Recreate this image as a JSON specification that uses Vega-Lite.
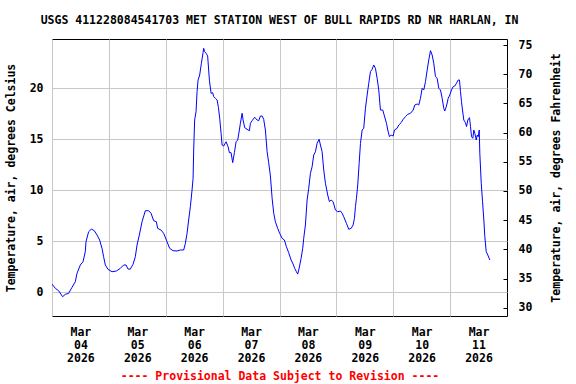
{
  "$schema": "https://vega.github.io/schema/vega-lite/v6.json",
  "autosize": {"type": "none"},
  "width": 455,
  "height": 277,
  "padding": {"left": 52, "top": 39, "right": 69, "bottom": 68},
  "background": "white",
  "title": {"text": "USGS 411228084541703 MET STATION WEST OF BULL RAPIDS RD NR HARLAN, IN", "fontSize": 11.5, "fontWeight": "bold", "font": "DejaVu Sans Mono", "anchor": "middle", "offset": 4, "baseline": "alphabetic", "color": "black"},
  "layer": [
    {
      "data": {"values": [
        {"t":"2026-03-04T00:00","c":0.81},{"t":"2026-03-04T01:25","c":0.39},{"t":"2026-03-04T02:47","c":0.16},{"t":"2026-03-04T04:28","c":-0.43},{"t":"2026-03-04T05:37","c":-0.2},{"t":"2026-03-04T07:00","c":-0.1},{"t":"2026-03-04T08:27","c":0.49},{"t":"2026-03-04T09:50","c":1.04},{"t":"2026-03-04T10:33","c":1.86},{"t":"2026-03-04T11:57","c":2.68},{"t":"2026-03-04T13:05","c":3.0},{"t":"2026-03-04T14:03","c":3.98},{"t":"2026-03-04T14:21","c":4.96},{"t":"2026-03-04T15:27","c":5.94},{"t":"2026-03-04T16:35","c":6.2},{"t":"2026-03-04T17:51","c":6.04},{"t":"2026-03-04T19:00","c":5.62},{"t":"2026-03-04T20:06","c":5.13},{"t":"2026-03-04T21:06","c":4.31},{"t":"2026-03-04T21:47","c":3.49},{"t":"2026-03-04T22:30","c":2.68},{"t":"2026-03-04T23:38","c":2.25},
        {"t":"2026-03-05T01:20","c":2.02},{"t":"2026-03-05T03:09","c":2.09},{"t":"2026-03-05T04:50","c":2.35},{"t":"2026-03-05T06:14","c":2.68},{"t":"2026-03-05T07:14","c":2.68},{"t":"2026-03-05T08:05","c":2.28},{"t":"2026-03-05T09:03","c":2.28},{"t":"2026-03-05T10:12","c":2.75},{"t":"2026-03-05T11:10","c":3.49},{"t":"2026-03-05T11:53","c":4.64},{"t":"2026-03-05T12:51","c":5.62},{"t":"2026-03-05T14:00","c":6.92},{"t":"2026-03-05T15:23","c":8.0},{"t":"2026-03-05T16:47","c":8.0},{"t":"2026-03-05T17:48","c":7.75},{"t":"2026-03-05T18:53","c":7.02},{"t":"2026-03-05T20:02","c":6.92},{"t":"2026-03-05T20:35","c":6.27},{"t":"2026-03-05T22:01","c":6.1},{"t":"2026-03-05T23:07","c":5.78},
        {"t":"2026-03-06T00:33","c":4.96},{"t":"2026-03-06T01:39","c":4.31},{"t":"2026-03-06T03:05","c":4.08},{"t":"2026-03-06T04:46","c":4.05},{"t":"2026-03-06T06:10","c":4.15},{"t":"2026-03-06T07:34","c":4.15},{"t":"2026-03-06T08:17","c":4.8},{"t":"2026-03-06T08:59","c":5.78},{"t":"2026-03-06T09:40","c":7.09},{"t":"2026-03-06T10:23","c":8.39},{"t":"2026-03-06T11:06","c":10.03},{"t":"2026-03-06T11:32","c":11.18},{"t":"2026-03-06T11:47","c":13.95},{"t":"2026-03-06T12:12","c":16.9},{"t":"2026-03-06T12:47","c":17.7},{"t":"2026-03-06T13:13","c":19.67},{"t":"2026-03-06T13:38","c":20.8},{"t":"2026-03-06T14:19","c":21.3},{"t":"2026-03-06T15:02","c":22.45},{"t":"2026-03-06T15:45","c":23.49},{"t":"2026-03-06T16:00","c":23.92},{"t":"2026-03-06T16:25","c":23.59},{"t":"2026-03-06T17:01","c":23.43},{"t":"2026-03-06T17:41","c":23.17},{"t":"2026-03-06T18:25","c":20.8},{"t":"2026-03-06T19:08","c":19.5},{"t":"2026-03-06T19:48","c":19.57},{"t":"2026-03-06T20:13","c":19.18},{"t":"2026-03-06T20:56","c":19.02},{"t":"2026-03-06T21:40","c":18.85},{"t":"2026-03-06T22:13","c":18.14},{"t":"2026-03-06T22:46","c":17.06},{"t":"2026-03-06T23:21","c":15.59},{"t":"2026-03-06T23:46","c":14.44},
        {"t":"2026-03-07T00:27","c":14.34},{"t":"2026-03-07T01:28","c":14.76},{"t":"2026-03-07T02:18","c":14.27},{"t":"2026-03-07T02:51","c":13.69},{"t":"2026-03-07T03:34","c":13.69},{"t":"2026-03-07T04:15","c":12.71},{"t":"2026-03-07T04:58","c":13.69},{"t":"2026-03-07T05:41","c":14.76},{"t":"2026-03-07T06:22","c":14.93},{"t":"2026-03-07T07:04","c":15.91},{"t":"2026-03-07T07:30","c":16.57},{"t":"2026-03-07T08:13","c":17.55},{"t":"2026-03-07T08:38","c":16.89},{"t":"2026-03-07T09:19","c":16.14},{"t":"2026-03-07T10:19","c":15.98},{"t":"2026-03-07T11:18","c":15.84},{"t":"2026-03-07T11:43","c":16.57},{"t":"2026-03-07T12:26","c":16.82},{"t":"2026-03-07T13:32","c":17.16},{"t":"2026-03-07T14:33","c":16.89},{"t":"2026-03-07T15:13","c":16.82},{"t":"2026-03-07T15:56","c":17.28},{"t":"2026-03-07T16:40","c":17.28},{"t":"2026-03-07T17:20","c":16.96},{"t":"2026-03-07T18:03","c":15.91},{"t":"2026-03-07T18:46","c":13.78},{"t":"2026-03-07T19:26","c":12.71},{"t":"2026-03-07T20:10","c":11.4},{"t":"2026-03-07T20:53","c":9.22},{"t":"2026-03-07T21:34","c":7.75},{"t":"2026-03-07T22:16","c":6.92},{"t":"2026-03-07T23:14","c":6.27},
        {"t":"2026-03-08T00:05","c":5.78},{"t":"2026-03-08T01:06","c":5.29},{"t":"2026-03-08T02:04","c":5.13},{"t":"2026-03-08T02:55","c":4.47},{"t":"2026-03-08T03:53","c":3.88},{"t":"2026-03-08T04:54","c":3.17},{"t":"2026-03-08T05:44","c":2.77},{"t":"2026-03-08T06:25","c":2.35},{"t":"2026-03-08T07:08","c":2.02},{"t":"2026-03-08T07:41","c":1.79},{"t":"2026-03-08T08:17","c":2.35},{"t":"2026-03-08T09:07","c":3.33},{"t":"2026-03-08T09:48","c":4.31},{"t":"2026-03-08T10:13","c":5.29},{"t":"2026-03-08T10:56","c":6.6},{"t":"2026-03-08T11:39","c":9.05},{"t":"2026-03-08T12:20","c":10.2},{"t":"2026-03-08T13:03","c":11.67},{"t":"2026-03-08T13:46","c":12.31},{"t":"2026-03-08T14:26","c":13.46},{"t":"2026-03-08T15:10","c":13.78},{"t":"2026-03-08T15:52","c":14.6},{"t":"2026-03-08T16:43","c":15.0},{"t":"2026-03-08T17:16","c":14.44},{"t":"2026-03-08T17:59","c":13.78},{"t":"2026-03-08T18:40","c":11.99},{"t":"2026-03-08T19:23","c":10.69},{"t":"2026-03-08T20:21","c":9.54},{"t":"2026-03-08T21:04","c":8.88},{"t":"2026-03-08T21:47","c":9.05},{"t":"2026-03-08T22:38","c":8.88},{"t":"2026-03-08T23:36","c":8.07},
        {"t":"2026-03-09T00:34","c":7.9},{"t":"2026-03-09T01:43","c":7.97},{"t":"2026-03-09T02:26","c":7.75},{"t":"2026-03-09T03:06","c":7.41},{"t":"2026-03-09T04:14","c":6.76},{"t":"2026-03-09T05:13","c":6.18},{"t":"2026-03-09T06:14","c":6.27},{"t":"2026-03-09T07:04","c":6.6},{"t":"2026-03-09T07:37","c":7.25},{"t":"2026-03-09T08:03","c":8.39},{"t":"2026-03-09T08:28","c":9.22},{"t":"2026-03-09T09:01","c":10.52},{"t":"2026-03-09T09:26","c":11.99},{"t":"2026-03-09T09:37","c":12.65},{"t":"2026-03-09T10:10","c":14.6},{"t":"2026-03-09T10:53","c":15.91},{"t":"2026-03-09T11:33","c":16.08},{"t":"2026-03-09T12:16","c":18.04},{"t":"2026-03-09T12:59","c":19.34},{"t":"2026-03-09T13:40","c":20.49},{"t":"2026-03-09T14:23","c":21.63},{"t":"2026-03-09T15:05","c":21.86},{"t":"2026-03-09T15:46","c":22.28},{"t":"2026-03-09T16:29","c":21.96},{"t":"2026-03-09T17:12","c":20.98},{"t":"2026-03-09T17:53","c":19.83},{"t":"2026-03-09T18:36","c":17.87},{"t":"2026-03-09T19:34","c":17.87},{"t":"2026-03-09T20:17","c":17.28},{"t":"2026-03-09T21:08","c":16.57},{"t":"2026-03-09T21:41","c":15.91},{"t":"2026-03-09T22:24","c":15.25},{"t":"2026-03-09T23:07","c":15.42},{"t":"2026-03-09T23:58","c":15.32},
        {"t":"2026-03-10T00:31","c":15.91},{"t":"2026-03-10T01:39","c":16.08},{"t":"2026-03-10T02:20","c":16.4},{"t":"2026-03-10T03:20","c":16.63},{"t":"2026-03-10T04:11","c":16.96},{"t":"2026-03-10T05:10","c":17.22},{"t":"2026-03-10T06:08","c":17.45},{"t":"2026-03-10T07:16","c":17.55},{"t":"2026-03-10T08:25","c":17.87},{"t":"2026-03-10T09:05","c":18.36},{"t":"2026-03-10T10:06","c":18.46},{"t":"2026-03-10T10:46","c":18.36},{"t":"2026-03-10T11:29","c":19.02},{"t":"2026-03-10T12:12","c":20.0},{"t":"2026-03-10T12:53","c":19.83},{"t":"2026-03-10T13:36","c":20.65},{"t":"2026-03-10T14:19","c":21.79},{"t":"2026-03-10T14:59","c":22.77},{"t":"2026-03-10T15:43","c":23.69},{"t":"2026-03-10T16:25","c":23.26},{"t":"2026-03-10T17:06","c":22.45},{"t":"2026-03-10T17:49","c":21.14},{"t":"2026-03-10T18:32","c":20.98},{"t":"2026-03-10T19:13","c":20.0},{"t":"2026-03-10T19:56","c":19.83},{"t":"2026-03-10T20:39","c":19.02},{"t":"2026-03-10T21:19","c":18.04},{"t":"2026-03-10T21:44","c":17.77},{"t":"2026-03-10T22:28","c":18.26},{"t":"2026-03-10T23:11","c":19.02},{"t":"2026-03-10T23:52","c":19.34},
        {"t":"2026-03-11T00:34","c":19.83},{"t":"2026-03-11T01:17","c":20.16},{"t":"2026-03-11T01:58","c":20.22},{"t":"2026-03-11T02:41","c":20.49},{"t":"2026-03-11T03:24","c":20.81},{"t":"2026-03-11T03:57","c":20.81},{"t":"2026-03-11T04:22","c":19.67},{"t":"2026-03-11T04:48","c":18.69},{"t":"2026-03-11T05:13","c":17.87},{"t":"2026-03-11T05:46","c":16.89},{"t":"2026-03-11T06:29","c":16.63},{"t":"2026-03-11T06:55","c":16.24},{"t":"2026-03-11T07:28","c":16.89},{"t":"2026-03-11T08:11","c":17.12},{"t":"2026-03-11T08:36","c":16.24},{"t":"2026-03-11T09:02","c":15.25},{"t":"2026-03-11T09:35","c":15.1},{"t":"2026-03-11T10:00","c":15.91},{"t":"2026-03-11T10:25","c":15.59},{"t":"2026-03-11T11:01","c":14.93},{"t":"2026-03-11T11:26","c":15.42},{"t":"2026-03-11T11:52","c":15.25},{"t":"2026-03-11T12:17","c":15.91},{"t":"2026-03-11T12:32","c":13.63},{"t":"2026-03-11T13:08","c":10.69},{"t":"2026-03-11T13:41","c":8.88},{"t":"2026-03-11T14:14","c":7.09},{"t":"2026-03-11T14:39","c":5.45},{"t":"2026-03-11T15:14","c":3.98},{"t":"2026-03-11T15:54","c":3.66},{"t":"2026-03-11T16:45","c":3.17}
      ]},
      "mark": {"type": "line", "color": "#0000ff", "strokeWidth": 1, "clip": true},
      "encoding": {
        "x": {
          "field": "t", "type": "temporal",
          "scale": {"domain": [{"year": 2026, "month": 3, "date": 4}, {"year": 2026, "month": 3, "date": 12}]},
          "axis": {
            "values": [{"year": 2026, "month": 3, "date": 4}, {"year": 2026, "month": 3, "date": 5}, {"year": 2026, "month": 3, "date": 6}, {"year": 2026, "month": 3, "date": 7}, {"year": 2026, "month": 3, "date": 8}, {"year": 2026, "month": 3, "date": 9}, {"year": 2026, "month": 3, "date": 10}, {"year": 2026, "month": 3, "date": 11}],
            "grid": true, "gridColor": "#c8c8c8", "gridWidth": 1, "gridOpacity": 1,
            "ticks": false, "domain": false,
            "labelExpr": "[timeFormat(datum.value, '%b'), timeFormat(datum.value, '%d'), timeFormat(datum.value, '%Y')]",
            "labelOffset": 28.4, "labelPadding": 10, "labelLineHeight": 13.4,
            "labelFontSize": 11.5, "labelFontWeight": "bold", "labelColor": "black",
            "labelOverlap": false, "labelFlush": false, "labelAlign": "center",
            "title": "---- Provisional Data Subject to Revision ----",
            "titleColor": "#ff0000", "titleFontSize": 11.5, "titleFontWeight": "bold", "titlePadding": 6
          }
        },
        "y": {
          "field": "c", "type": "quantitative",
          "scale": {"domain": [-2.32, 24.83], "nice": false, "zero": false},
          "axis": {
            "values": [0, 5, 10, 15, 20],
            "grid": true, "gridColor": "#c8c8c8", "gridWidth": 1, "gridOpacity": 1,
            "ticks": false, "domain": false,
            "labelPadding": 9, "labelFontSize": 11.5, "labelFontWeight": "bold", "labelColor": "black",
            "title": "Temperature, air, degrees Celsius",
            "titleFontSize": 11.5, "titleFontWeight": "bold", "titleColor": "black", "titlePadding": 13
          }
        }
      }
    },
    {
      "data": {"values": [{}]},
      "mark": {"type": "rule", "strokeOpacity": 0},
      "encoding": {
        "y": {
          "datum": 50, "type": "quantitative",
          "scale": {"domain": [28.58, 76.03], "nice": false, "zero": false},
          "axis": {
            "orient": "right",
            "values": [30, 35, 40, 45, 50, 55, 60, 65, 70, 75],
            "grid": false, "ticks": true, "tickSize": -4, "tickColor": "black", "domain": false,
            "labelPadding": 15, "labelFontSize": 11.5, "labelFontWeight": "bold", "labelColor": "black",
            "title": "Temperature, air, degrees Fahrenheit", "titleAngle": 270,
            "titleFontSize": 11.5, "titleFontWeight": "bold", "titleColor": "black", "titlePadding": 30
          }
        }
      }
    }
  ],
  "resolve": {"scale": {"y": "independent"}, "axis": {"y": "independent"}},
  "config": {
    "font": "DejaVu Sans Mono",
    "view": {"stroke": "black", "strokeWidth": 1}
  }
}
